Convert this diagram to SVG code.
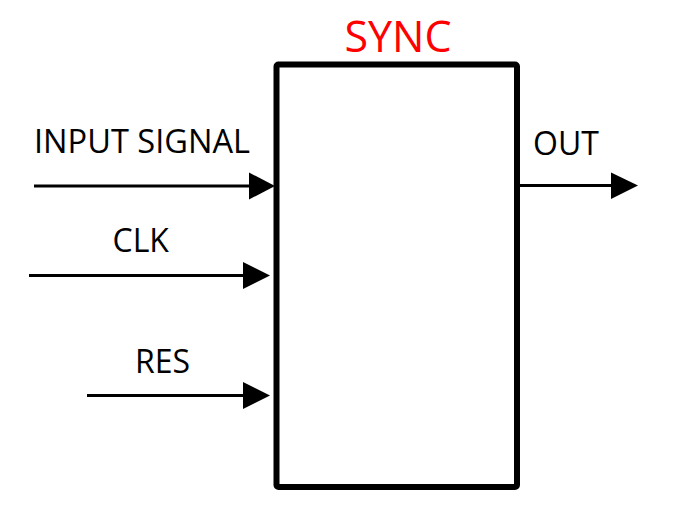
<svg xmlns="http://www.w3.org/2000/svg" width="685" height="514" viewBox="0 0 685 514">
<style>
.lbl{font-family:"Open Sans","Noto Sans","DejaVu Sans",sans-serif;font-size:32px;fill:#000}
.title{font-family:"Open Sans","Noto Sans","DejaVu Sans",sans-serif;font-size:43px;fill:#ff0000}
.wire{stroke:#000;stroke-width:3;fill:none}
.head{fill:#000}
</style>
<rect width="685" height="514" fill="#fff"/>
<g id="sync">
<rect x="276.5" y="64.5" width="240.5" height="422.5" rx="2" fill="#fff" stroke="#000" stroke-width="6"/>
<text class="title" x="398" y="51.5" text-anchor="middle">SYNC</text>
</g>
<g id="labels">
<text class="lbl" x="34" y="152.5" textLength="216" lengthAdjust="spacingAndGlyphs">INPUT SIGNAL</text>
<text class="lbl" x="112.5" y="251.5">CLK</text>
<text class="lbl" x="135" y="373">RES</text>
<text class="lbl" x="533" y="155">OUT</text>
</g>
<g id="connectors">
<line class="wire" x1="34" y1="186" x2="252" y2="186"/>
<polygon class="head" points="249,172.5 249,199.5 275,186"/>
<line class="wire" x1="29" y1="275.5" x2="246" y2="275.5"/>
<polygon class="head" points="243,262 243,289 270,275.5"/>
<line class="wire" x1="87" y1="395.5" x2="246" y2="395.5"/>
<polygon class="head" points="243,382 243,409 270,395.5"/>
<line class="wire" x1="520" y1="185.5" x2="614" y2="185.5"/>
<polygon class="head" points="611,172.5 611,199 638,185.5"/>
</g>
</svg>
